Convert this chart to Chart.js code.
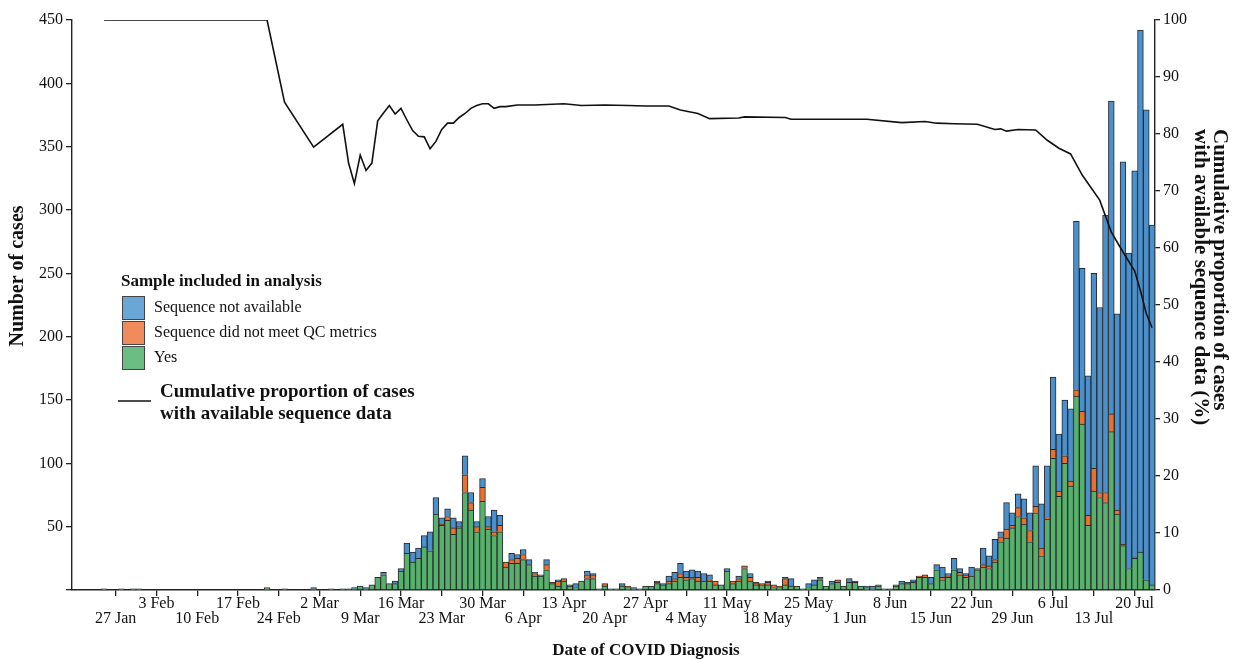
<!DOCTYPE html>
<html>
<head>
<meta charset="utf-8">
<script src="https://cdn.jsdelivr.net/npm/chart.js@4.4.1/dist/chart.umd.min.js"></script>
<style>
html,body{margin:0;padding:0;background:#fff;}
#wrap{width:1240px;height:659px;position:relative;}
</style>
</head>
<body>
<div id="wrap"><canvas id="c" width="1240" height="659"></canvas></div>
<script>
// ---------- categories: one per day, 20 Jan 2020 .. 23 Jul 2020 ----------
const MONTHS = ['Jan','Feb','Mar','Apr','May','Jun','Jul','Aug'];
const dayCount = 186;
const categories = [];
for (let i = 0; i < dayCount; i++) {
  const dt = new Date(Date.UTC(2020, 0, 20 + i));
  categories.push(dt.getUTCDate() + ' ' + MONTHS[dt.getUTCMonth()]);
}
// weekly tick labels (alternating rows)
const tickLabels = ['27 Jan','3 Feb','10 Feb','17 Feb','24 Feb','2 Mar','9 Mar','16 Mar','23 Mar','30 Mar',
  '6 Apr','13 Apr','20 Apr','27 Apr','4 May','11 May','18 May','25 May','1 Jun','8 Jun','15 Jun','22 Jun',
  '29 Jun','6 Jul','13 Jul','20 Jul'];
const leftTicks = [50,100,150,200,250,300,350,400,450];

// ---------- series (rows = weeks Mon..Sun starting 20 Jan) ----------
const yesCases = [
  0,0,0,0,0,1,0,
  0,1,0,1,1,0,0,
  0,0,0,0,0,0,0,
  0,0,0,0,0,0,0,
  0,0,0,0,0,2,0,
  0,0,0,0,0,0,1,
  0,0,1,0,1,0,1,
  3,1,4,10,12,5,5,
  15,29,22,25,34,31,60,
  51,55,44,49,77,63,46,
  70,48,43,46,18,21,21,
  24,20,11,11,16,5,3,
  7,3,2,7,9,9,1,
  3,1,1,3,2,1,1,
  3,3,5,4,5,7,10,
  8,9,7,7,7,4,4,
  15,5,7,17,7,4,4,
  4,2,2,4,3,3,1,
  2,4,8,3,5,6,3,
  6,6,3,2,1,3,1,
  0,3,5,5,6,10,10,
  5,16,8,10,16,12,10,
  11,16,18,17,22,38,41,
  49,58,52,38,61,27,56,
  104,74,100,82,153,131,51,
  78,73,69,125,60,35,17,
  25,30,8,4
];
const qcFailCases = [
  0,0,0,0,0,0,0,
  0,0,0,0,0,0,0,
  0,0,0,0,0,0,0,
  0,0,0,0,0,0,0,
  0,0,0,0,0,0,0,
  0,0,0,0,0,0,0,
  0,0,0,0,0,0,0,
  0,0,0,0,0,0,0,
  0,0,0,0,0,0,0,
  1,3,5,1,14,6,4,
  11,2,3,5,4,3,4,
  4,0,2,0,4,1,4,
  2,0,0,0,3,3,0,
  2,0,0,0,1,0,0,
  0,0,1,0,2,2,3,
  2,1,3,0,1,3,0,
  0,2,2,2,3,1,1,
  2,2,1,5,0,0,0,
  0,0,1,0,0,2,0,
  0,0,0,0,0,0,0,
  0,0,0,0,1,1,2,
  0,0,2,1,0,2,2,
  0,0,2,2,2,4,7,
  2,7,5,9,5,6,1,
  7,4,6,4,5,10,8,
  18,4,8,14,3,1,0,
  1,0,0,0
];
const notAvailCases = [
  0,0,0,0,0,0,0,
  0,0,0,0,0,0,0,
  0,0,0,0,0,0,0,
  0,0,0,0,0,0,0,
  0,0,0,0,0,0,0,
  0,1,0,0,0,0,1,
  0,0,0,0,0,1,1,
  0,1,0,0,2,0,2,
  2,8,8,8,9,15,13,
  5,6,8,4,15,8,4,
  7,8,17,8,0,5,3,
  4,4,1,1,4,0,1,
  0,1,3,0,3,1,0,
  0,0,0,2,0,1,0,
  0,0,1,1,4,5,8,
  5,6,5,6,4,0,0,
  2,0,2,0,3,1,0,
  1,0,0,1,6,0,0,
  3,4,1,0,2,0,0,
  3,1,0,1,2,1,0,
  1,1,2,1,1,0,0,
  5,4,8,2,9,3,1,
  7,1,13,8,16,4,21,
  10,11,15,14,32,35,41,
  57,45,44,57,133,113,110,
  154,146,219,247,155,302,249,
  305,412,371,284
];
const _ = null;
const cumulativePct = [
  _,_,_,_,_,100,_,
  _,_,_,_,_,_,_,
  _,_,_,_,_,_,_,
  _,_,_,_,_,_,_,
  _,_,_,_,_,100,_,
  _,85.6,_,_,_,_,77.7,
  _,_,_,_,81.7,74.9,71.3,
  76.3,73.6,74.9,82.3,83.7,85.0,83.5,
  84.5,82.5,80.6,79.6,79.5,77.4,78.7,
  80.8,81.9,81.9,82.9,83.6,84.5,85.0,
  85.3,85.3,84.5,84.8,84.8,_,85.1,
  _,_,85.1,_,_,_,_,
  85.3,_,_,85.0,_,_,_,
  85.1,_,_,_,85.0,_,_,
  84.9,_,_,_,84.9,_,84.2,
  _,_,83.6,_,82.7,_,_,
  _,_,82.8,83.0,_,_,_,
  _,_,_,82.9,82.6,_,_,
  _,82.6,_,_,_,_,_,
  _,_,_,82.6,_,_,_,
  _,_,82.0,_,_,_,82.2,
  _,81.9,_,_,81.8,_,_,
  _,81.7,_,_,80.8,80.9,80.5,
  _,80.8,_,_,80.7,_,78.9,
  _,77.5,_,76.5,_,72.8,_,
  _,68.4,_,62.8,_,59.3,_,
  56.0,52.5,48.5,46.0
];

// ---------- texts ----------
const seriesNames = ['Yes','Sequence did not meet QC metrics','Sequence not available'];
const legendTitle = 'Sample included in analysis';
const lineName = ['Cumulative proportion of cases','with available sequence data'];
const yTitle = 'Number of cases';
const y1Title = ['Cumulative proportion of cases','with available sequence data (%)'];
const xTitle = 'Date of COVID Diagnosis';

// ---------- styles ----------
const SERIF = "'Liberation Serif','Times New Roman',serif";
const barColors = ['#55b16c','#e8712f','#4a90cd'];
const legendColors = ['#6cbd84','#ef8b5d','#6aa6d6'];
const axisColor = '#222';

Chart.defaults.font.family = SERIF;
Chart.defaults.color = '#111';

const isWeekTick = (i) => tickLabels.indexOf(categories[i]) >= 0;

const overlay = {
  id: 'overlay',
  afterDraw(chart) {
    const ctx = chart.ctx;
    ctx.save();
    ctx.fillStyle = '#111';
    ctx.textBaseline = 'middle';
    // left axis title
    ctx.save();
    ctx.font = "bold 20px " + SERIF;
    ctx.translate(18, 276);
    ctx.rotate(-Math.PI / 2);
    ctx.textAlign = 'center';
    ctx.fillText(yTitle, 0, 0);
    ctx.restore();
    // right axis title
    ctx.save();
    ctx.font = "bold 21px " + SERIF;
    ctx.textAlign = 'left';
    ctx.translate(1219, 129);
    ctx.rotate(Math.PI / 2);
    ctx.fillText(y1Title[0], 0, 0);
    ctx.fillText(y1Title[1], 0, 19);
    ctx.restore();
    // x title
    ctx.font = "bold 17px " + SERIF;
    ctx.textAlign = 'center';
    ctx.fillText(xTitle, 646, 651);
    // legend
    ctx.textAlign = 'left';
    ctx.font = "bold 17px " + SERIF;
    ctx.fillText(legendTitle, 121, 282);
    const order = [2, 1, 0];
    ctx.font = "16px " + SERIF;
    order.forEach((s, j) => {
      const top = 296 + j * 25;
      ctx.fillStyle = legendColors[s];
      ctx.fillRect(122, top, 23, 24);
      ctx.strokeStyle = '#444';
      ctx.lineWidth = 1;
      ctx.strokeRect(122.5, top + 0.5, 22, 23);
      ctx.fillStyle = '#111';
      ctx.fillText(seriesNames[s], 154, top + 12);
    });
    ctx.strokeStyle = '#111';
    ctx.lineWidth = 1.3;
    ctx.beginPath();
    ctx.moveTo(118, 401);
    ctx.lineTo(151, 401);
    ctx.stroke();
    ctx.font = "bold 19px " + SERIF;
    ctx.fillText(lineName[0], 160, 392);
    ctx.fillText(lineName[1], 160, 414);
    ctx.restore();
  }
};

const barCommon = {
  type: 'bar',
  yAxisID: 'y',
  stack: 'cases',
  borderColor: '#2a2a2a',
  borderWidth: 1,
  barPercentage: 1,
  categoryPercentage: 1,
  order: 1
};

new Chart(document.getElementById('c'), {
  type: 'bar',
  data: {
    labels: categories,
    datasets: [
      {
        type: 'line',
        label: lineName.join(' '),
        data: cumulativePct,
        yAxisID: 'y1',
        borderColor: '#111',
        borderWidth: 1.6,
        pointRadius: 0,
        tension: 0,
        spanGaps: true,
        fill: false,
        order: 0
      },
      Object.assign({}, barCommon, { label: seriesNames[0], data: yesCases, backgroundColor: barColors[0] }),
      Object.assign({}, barCommon, { label: seriesNames[1], data: qcFailCases, backgroundColor: barColors[1] }),
      Object.assign({}, barCommon, { label: seriesNames[2], data: notAvailCases, backgroundColor: barColors[2] })
    ]
  },
  options: {
    responsive: false,
    animation: false,
    events: [],
    layout: { padding: { top: 20, left: 0, right: 0, bottom: 0 } },
    plugins: { legend: { display: false }, tooltip: { enabled: false }, title: { display: false } },
    scales: {
      x: {
        type: 'category',
        stacked: true,
        offset: true,
        border: { display: true, color: axisColor, width: 1.4 },
        grid: {
          offset: false,
          drawOnChartArea: false,
          drawTicks: true,
          tickLength: 6,
          lineWidth: 1.3,
          color: (c) => isWeekTick(c.index) ? axisColor : 'rgba(0,0,0,0)'
        },
        ticks: {
          autoSkip: false,
          maxRotation: 0,
          minRotation: 0,
          padding: 0,
          font: { size: 16, lineHeight: '15px' },
          color: '#111',
          callback: function (value, index) {
            const lab = categories[index];
            const k = tickLabels.indexOf(lab);
            if (k < 0) return '';
            return (k % 2 === 1) ? [lab, ''] : ['', lab];
          }
        },
        afterFit: (s) => { s.height = 69; }
      },
      y: {
        type: 'linear',
        position: 'left',
        stacked: true,
        min: 0,
        max: 450,
        border: { display: true, color: axisColor, width: 1.4 },
        grid: { drawOnChartArea: false, drawTicks: true, tickLength: 6, color: axisColor, lineWidth: 1.3 },
        ticks: {
          stepSize: 50,
          padding: 3,
          font: { size: 16 },
          color: '#111',
          callback: (v) => leftTicks.indexOf(v) >= 0 ? String(v) : ''
        },
        afterFit: (s) => { s.width = 72; }
      },
      y1: {
        type: 'linear',
        position: 'right',
        min: 0,
        max: 100,
        border: { display: true, color: axisColor, width: 1.4 },
        grid: { drawOnChartArea: false, drawTicks: true, tickLength: 5, color: axisColor, lineWidth: 1.3 },
        ticks: { stepSize: 10, padding: 3, font: { size: 16 }, color: '#111' },
        afterFit: (s) => { s.width = 85; }
      }
    }
  },
  plugins: [overlay]
});
</script>
</body>
</html>
